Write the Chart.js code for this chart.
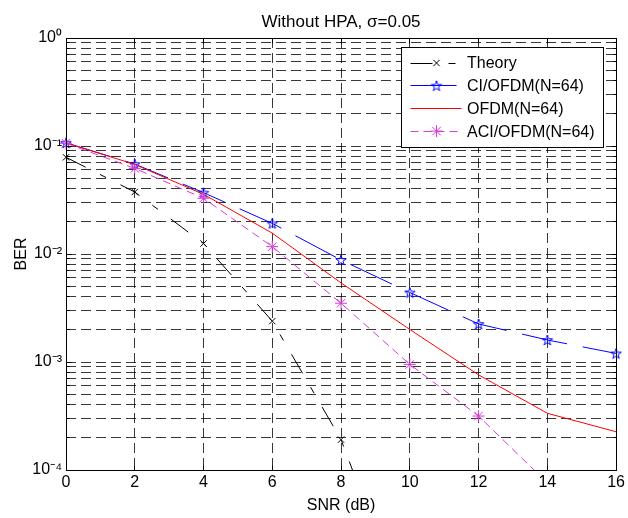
<!DOCTYPE html>
<html><head><meta charset="utf-8">
<script src="https://cdn.jsdelivr.net/npm/chart.js@4"></script>
<style>html,body{margin:0;padding:0;background:#fff;overflow:hidden}canvas{display:block}</style>
</head><body>
<canvas id="c" width="628" height="518"></canvas>
<script>
// ---- data ----
const snr = [0, 2, 4, 6, 8, 10, 12, 14, 16];
const theory = [0.0786, 0.0375, 0.0125, 0.00239, 0.000191, 0.0000039, 0.000000009, 0.0000000000068, 0.0000000000000011];
const ciOfdm = [0.107, 0.068, 0.037, 0.0192, 0.0088, 0.0044, 0.00225, 0.0016, 0.0012];
const ofdm = [0.107, 0.0675, 0.0357, 0.0156, 0.0054, 0.0020, 0.00076, 0.000335, 0.000226];
const aciOfdm = [0.106, 0.062, 0.0328, 0.0117, 0.0035, 0.00095, 0.000316, 0.000076, 0.000018];
const seriesLabels = ['Theory', 'CI/OFDM(N=64)', 'OFDM(N=64)', 'ACI/OFDM(N=64)'];
const xTickLabels = ['0', '2', '4', '6', '8', '10', '12', '14', '16'];
const yMajorTicks = [1e-4, 1e-3, 1e-2, 1e-1, 1];
const yTickLabels = ['10\u207B\u2074', '10\u207B\u00B3', '10\u207B\u00B2', '10\u207B\u00B9', '10\u2070'];
const titleText = 'Without HPA, \u03C3=0.05';
const xTitle = 'SNR (dB)';
const yTitle = 'BER';

const FONT = '"Liberation Sans", Arial, Helvetica, sans-serif';
Chart.defaults.font.family = FONT;
Chart.defaults.font.size = 16;
Chart.defaults.color = '#000';

// minor + major log ticks (1..9 per decade)
const yAllTicks = [];
for (let d = 0; d < yMajorTicks.length - 1; d++) {
  for (let m = 1; m <= 9; m++) yAllTicks.push(parseFloat((m * yMajorTicks[d]).toPrecision(6)));
}
yAllTicks.push(yMajorTicks[yMajorTicks.length - 1]);
function majorIndex(v) { return yMajorTicks.findIndex(m => Math.abs(m - v) / m < 1e-9); }

function makePentagram(color, R) {
  const s = Math.ceil(R * 2 + 3);
  const c = document.createElement('canvas'); c.width = s; c.height = s;
  const g = c.getContext('2d'); g.strokeStyle = color; g.lineWidth = 1; g.beginPath();
  const r = R * 0.382;
  for (let k = 0; k < 10; k++) {
    const ang = -Math.PI / 2 + k * Math.PI / 5; const rr = k % 2 ? r : R;
    const px = s / 2 + rr * Math.cos(ang), py = s / 2 + rr * Math.sin(ang) + 0.5;
    if (k) g.lineTo(px, py); else g.moveTo(px, py);
  }
  g.closePath(); g.stroke();
  return c;
}
const pentagram = makePentagram('#0000ff', 5.5);

const toPts = arr => snr.map((x, i) => ({x, y: arr[i]}));
const clipOpt = {left: 10, right: 10, top: 0, bottom: 0};

const MAG = 'rgb(215,60,215)';
const datasets = [
  {label: seriesLabels[0], data: toPts(theory), borderColor: '#000', borderWidth: 1, borderDash: [22, 16, 7, 16],
   pointStyle: 'crossRot', pointRadius: 4.5, pointBorderColor: '#000', pointBackgroundColor: 'transparent', pointBorderWidth: 1, order: 4},
  {label: seriesLabels[1], data: toPts(ciOfdm), borderColor: '#0000ff', borderWidth: 1, borderDash: [46, 16],
   pointStyle: pentagram, pointRadius: 5, pointBorderColor: '#0000ff', pointBackgroundColor: 'transparent', order: 3},
  {label: seriesLabels[2], data: toPts(ofdm), borderColor: '#ff0000', borderWidth: 1, borderDash: [],
   pointStyle: false, pointRadius: 0, order: 2},
  {label: seriesLabels[3], data: toPts(aciOfdm), borderColor: MAG, borderWidth: 1, borderDash: [8, 5],
   pointStyle: 'star', pointRadius: 6, pointBorderColor: MAG, pointBackgroundColor: 'transparent', pointBorderWidth: 1, order: 1}
];
datasets.forEach(d => { d.tension = 0; d.fill = false; d.clip = clipOpt; d.pointHoverRadius = d.pointRadius; });

function alignPx(p) { return Math.round(p - 0.5) + 0.5; }

const frame = {
  id: 'frame',
  afterDatasetsDraw(chart) {
    const {ctx, chartArea: a, scales: {x, y}} = chart;
    ctx.save();
    ctx.strokeStyle = '#000'; ctx.lineWidth = 1; ctx.setLineDash([]);
    const L = alignPx(a.left), R = alignPx(a.right), T = alignPx(a.top), B = alignPx(a.bottom);
    ctx.beginPath();
    x.ticks.forEach(t => {
      const px = alignPx(x.getPixelForValue(t.value));
      ctx.moveTo(px, B); ctx.lineTo(px, B - 5); ctx.moveTo(px, T); ctx.lineTo(px, T + 5);
    });
    y.ticks.forEach(t => {
      const py = alignPx(y.getPixelForValue(t.value));
      const len = majorIndex(t.value) >= 0 ? 5 : 3;
      ctx.moveTo(L, py); ctx.lineTo(L + len, py); ctx.moveTo(R, py); ctx.lineTo(R - len, py);
    });
    ctx.stroke();
    ctx.strokeRect(L, T, R - L, B - T);
    ctx.restore();
  }
};

function drawMarker(ctx, ds, x, y) {
  const st = ds.pointStyle, r = ds.pointRadius;
  if (!st) return;
  ctx.save(); ctx.lineWidth = 1; ctx.strokeStyle = ds.pointBorderColor; ctx.setLineDash([]);
  if (st instanceof HTMLCanvasElement) {
    ctx.drawImage(st, x - st.width / 2, y - st.height / 2);
  } else {
    ctx.beginPath();
    const d = r * Math.SQRT1_2;
    ctx.moveTo(x - d, y - d); ctx.lineTo(x + d, y + d); ctx.moveTo(x - d, y + d); ctx.lineTo(x + d, y - d);
    if (st === 'star') { ctx.moveTo(x, y - r); ctx.lineTo(x, y + r); ctx.moveTo(x - r, y); ctx.lineTo(x + r, y); }
    ctx.stroke();
  }
  ctx.restore();
}

const legendBox = {
  id: 'legendBox',
  afterDraw(chart) {
    const {ctx, chartArea: a} = chart;
    const w = 202, h = 100;
    const bx = alignPx(a.right - 13 - w), by = alignPx(a.top + 9);
    ctx.save();
    ctx.fillStyle = '#fff'; ctx.fillRect(bx, by, w, h);
    ctx.strokeStyle = '#000'; ctx.lineWidth = 1; ctx.setLineDash([]); ctx.strokeRect(bx, by, w, h);
    ctx.font = '16px ' + FONT; ctx.textBaseline = 'middle'; ctx.textAlign = 'left';
    chart.data.datasets.forEach((ds, i) => {
      const yy = by + 15.5 + i * 22.7;
      const ly = alignPx(yy);
      ctx.strokeStyle = ds.borderColor; ctx.setLineDash(ds.borderDash || []);
      ctx.beginPath(); ctx.moveTo(bx + 9, ly); ctx.lineTo(bx + 60, ly); ctx.stroke();
      ctx.setLineDash([]);
      drawMarker(ctx, ds, bx + 35, yy);
      ctx.fillStyle = '#000'; ctx.fillText(ds.label, bx + 65.5, yy + 1);
    });
    ctx.restore();
  }
};

const GRID = 'rgba(0,0,0,0.78)';
new Chart(document.getElementById('c'), {
  type: 'line',
  data: {datasets},
  options: {
    responsive: false, animation: false, devicePixelRatio: 1,
    events: [],
    layout: {padding: {left: 0, right: 11, top: 0, bottom: 0}},
    plugins: {
      legend: {display: false}, tooltip: {enabled: false},
      title: {display: true, fullSize: false, text: titleText, color: '#000', font: {size: 17, weight: 'normal'}, padding: {top: 12, bottom: 5.6}}
    },
    scales: {
      x: {
        type: 'linear', min: 0, max: 16,
        afterBuildTicks: s => { s.ticks = xTickLabels.map(v => ({value: Number(v)})); },
        ticks: {stepSize: 2, color: '#000', padding: 3, autoSkip: false, maxRotation: 0,
                callback: (v) => { const i = xTickLabels.indexOf(String(v)); return i >= 0 ? xTickLabels[i] : ''; }},
        grid: {color: GRID, lineWidth: 1, drawTicks: false},
        border: {display: false, dash: [10, 5]},
        title: {display: true, text: xTitle, color: '#000', padding: {top: 0, bottom: 3}},
        afterFit: s => { s.height = 48; }
      },
      y: {
        type: 'logarithmic', min: 1e-4, max: 1,
        afterBuildTicks: s => { s.ticks = yAllTicks.map(v => ({value: v, major: majorIndex(v) >= 0})); },
        ticks: {color: '#000', padding: 4, autoSkip: false,
                callback: (v) => { const i = majorIndex(v); return i >= 0 ? yTickLabels[i] : ''; }},
        grid: {color: GRID, lineWidth: 1, drawTicks: false},
        border: {display: false, dash: [10, 5]},
        title: {display: true, text: yTitle, color: '#000', padding: {top: 12, bottom: 0}},
        afterFit: s => { s.width = 66; }
      }
    }
  },
  plugins: [frame, legendBox]
});
</script>
</body></html>
